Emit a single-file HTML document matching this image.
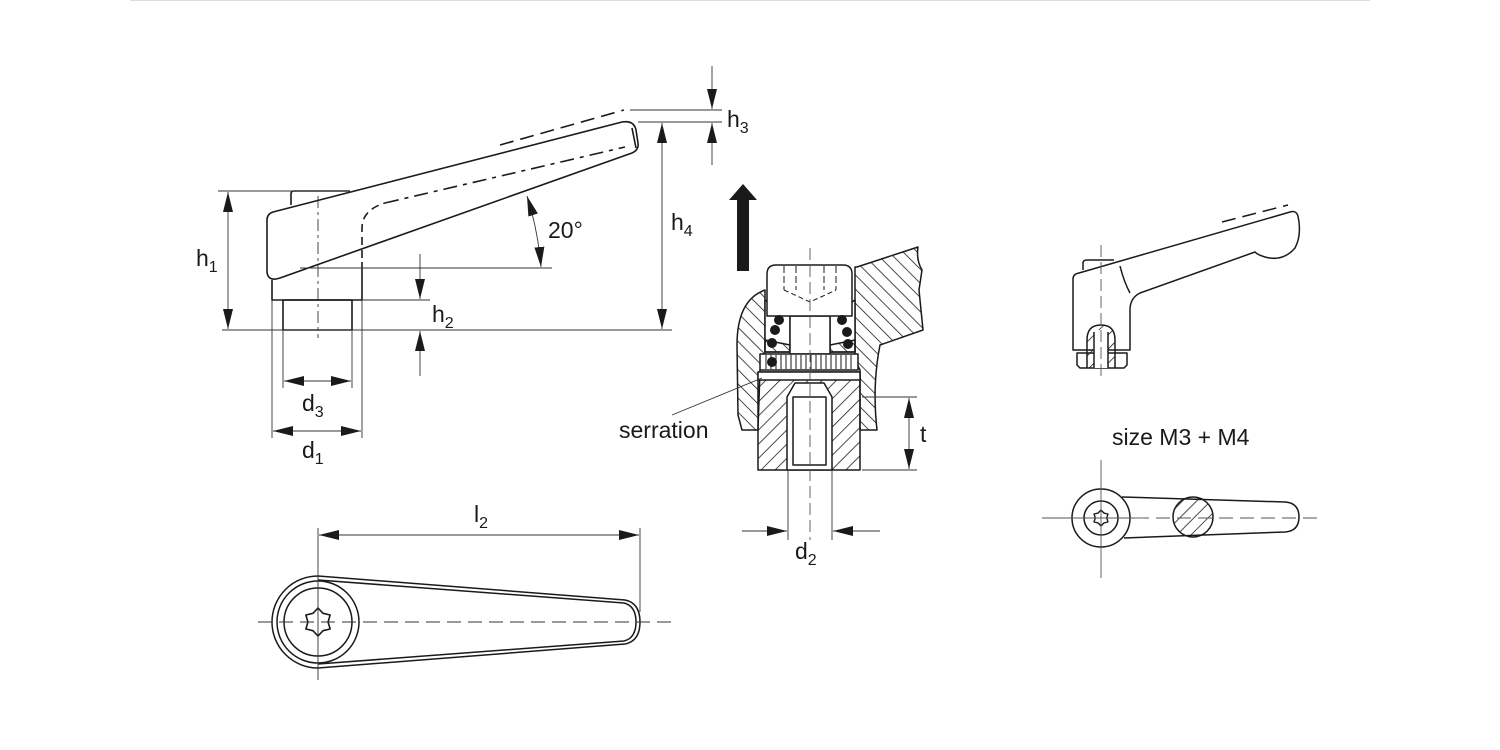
<!DOCTYPE html>
<html><head><meta charset="utf-8"><style>
html,body{margin:0;padding:0;background:#fff;}
svg{display:block;}
text{font-family:"Liberation Sans",Arial,sans-serif;fill:#1a1a1a;}
</style></head><body>
<svg width="1500" height="750" viewBox="0 0 1500 750" xmlns="http://www.w3.org/2000/svg">
<defs>
<pattern id="h" patternUnits="userSpaceOnUse" width="10" height="10" patternTransform="rotate(45)"><line x1="0" y1="0" x2="0" y2="10" stroke="#111" stroke-width="1.5"/></pattern>
<pattern id="h2" patternUnits="userSpaceOnUse" width="10" height="10" patternTransform="rotate(-45)"><line x1="0" y1="0" x2="0" y2="10" stroke="#111" stroke-width="1.5"/></pattern>
<marker id="a" viewBox="0 0 20 10" refX="20" refY="5" markerWidth="20" markerHeight="10" markerUnits="userSpaceOnUse" orient="auto-start-reverse"><path d="M0,0 L20,5 L0,10 Z" fill="#1a1a1a"/></marker>
</defs>
<line x1="130" y1="0.5" x2="1370" y2="0.5" stroke="#ddd"/>
<g fill="none" stroke="#1a1a1a" stroke-width="1.6" stroke-linejoin="round">
<path d="M291,205 L291,194 Q291,191 294,191 L350,191"/>
<path d="M267,220 Q267,214 273,212 L622,122 Q634,120 636,130 L638,143 Q639,150 632,153 L280,278 Q268,282 267,272 Z" fill="#fff"/>
<path d="M272,280 L272,300 L362,300 L362,262"/>
<rect x="283" y="300" width="69" height="30"/>
<path d="M362,258 L362,228 Q362,210 385,203" stroke-dasharray="8,5"/>
<path d="M385,203 L625,147" stroke-dasharray="14,6,4,6"/>
<path d="M632,128 L636,148" />
<path d="M500,145 L624,110" stroke-dasharray="14,7"/>
</g>
<g fill="none" stroke="#333" stroke-width="0.9">
<line x1="218" y1="191" x2="350" y2="191"/>
<line x1="222" y1="330" x2="672" y2="330"/>
<line x1="362" y1="300" x2="430" y2="300"/>
<line x1="300" y1="268" x2="552" y2="268"/>
<line x1="630" y1="110" x2="722" y2="110"/>
<line x1="638" y1="122" x2="722" y2="122"/>
<line x1="318" y1="196" x2="318" y2="338" stroke-dasharray="12,4,3,4"/>
<line x1="283" y1="330" x2="283" y2="388"/>
<line x1="352" y1="330" x2="352" y2="388"/>
<line x1="272" y1="300" x2="272" y2="438"/>
<line x1="362" y1="300" x2="362" y2="438"/>
<line x1="228" y1="192" x2="228" y2="329" marker-start="url(#a)" marker-end="url(#a)"/>
<line x1="662" y1="123" x2="662" y2="329" marker-start="url(#a)" marker-end="url(#a)"/>
<line x1="712" y1="66" x2="712" y2="109" marker-end="url(#a)"/>
<line x1="712" y1="165" x2="712" y2="123" marker-end="url(#a)"/>
<line x1="420" y1="254" x2="420" y2="299" marker-end="url(#a)"/>
<line x1="420" y1="376" x2="420" y2="331" marker-end="url(#a)"/>
<line x1="284" y1="381" x2="351" y2="381" marker-start="url(#a)" marker-end="url(#a)"/>
<line x1="273" y1="431" x2="361" y2="431" marker-start="url(#a)" marker-end="url(#a)"/>
<path d="M527,196 Q538,230 541,267" marker-start="url(#a)" marker-end="url(#a)"/>
</g>
<text x="196" y="266" font-size="23">h<tspan font-size="16" dy="6">1</tspan></text>
<text x="432" y="322" font-size="23">h<tspan font-size="16" dy="6">2</tspan></text>
<text x="727" y="127" font-size="23">h<tspan font-size="16" dy="6">3</tspan></text>
<text x="671" y="230" font-size="23">h<tspan font-size="16" dy="6">4</tspan></text>
<text x="548" y="238" font-size="23">20°</text>
<text x="302" y="411" font-size="23">d<tspan font-size="16" dy="6">3</tspan></text>
<text x="302" y="458" font-size="23">d<tspan font-size="16" dy="6">1</tspan></text>

<rect x="737" y="197" width="12" height="74" fill="#1a1a1a"/>
<path d="M729,200 L743,184 L757,200 Z" fill="#1a1a1a"/>
<g stroke="#1a1a1a" stroke-width="1.5" stroke-linejoin="round">
<path d="M857,267 L918,247 Q916,260 922,270 L919,290 L923,330 L880,345 Q872,385 877,430 L860,430 L860,370 L855,360 L855,267 Z" fill="url(#h2)"/>
<path d="M765,290 L765,360 L760,370 L758,430 L742,430 L738,415 L737,345 Q737,300 765,290 Z" fill="url(#h2)"/>
<path d="M758,372 L860,372 L860,470 L758,470 Z" fill="url(#h)"/>
<path d="M787,470 L787,397 L795,383 L824,383 L832,397 L832,470 Z" fill="#fff"/>
<rect x="793" y="397" width="33" height="68" fill="#fff"/>
<rect x="758" y="372" width="102" height="8" fill="#fff"/>
<path d="M765,300 L790,316 L790,352 L765,352 Z" fill="#fff"/>
<path d="M855,300 L830,316 L830,352 L855,352 Z" fill="#fff"/>
<path d="M765,340 L790,345 L790,352 L765,352 Z" fill="url(#h2)"/>
<path d="M855,340 L830,345 L830,352 L855,352 Z" fill="url(#h2)"/>
<rect x="790" y="316" width="40" height="38" fill="#fff"/>
<path d="M767,316 L767,274 Q767,265 776,265 L843,265 Q852,265 852,274 L852,316 Z" fill="#fff"/>
<rect x="760" y="354" width="98" height="16" fill="#fff"/>
</g>
<g stroke="#1a1a1a" stroke-width="1">
<path d="M766,355 V369 M771,355 V369 M776,355 V369 M781,355 V369 M786,355 V369 M791,355 V369 M796,355 V369 M801,355 V369 M806,355 V369 M811,355 V369 M816,355 V369 M821,355 V369 M826,355 V369 M831,355 V369 M836,355 V369 M841,355 V369 M846,355 V369 M851,355 V369"/>
<path d="M784,266 V290 M796,266 V290 M824,266 V290 M836,266 V290" stroke-dasharray="7,3"/>
<path d="M784,290 L810,302 L836,290" stroke-dasharray="5,3" fill="none"/>
<line x1="810" y1="248" x2="810" y2="540" stroke="#555" stroke-width="0.9" stroke-dasharray="12,5"/>
</g>
<g fill="#1a1a1a">
<circle cx="779" cy="320" r="5"/><circle cx="775" cy="330" r="5"/><circle cx="772" cy="343" r="5"/><circle cx="772" cy="362" r="5"/>
<circle cx="842" cy="320" r="5"/><circle cx="847" cy="332" r="5"/><circle cx="848" cy="344" r="5"/>
</g>
<g fill="none" stroke="#333" stroke-width="0.9">
<line x1="862" y1="397" x2="917" y2="397"/>
<line x1="862" y1="470" x2="917" y2="470"/>
<line x1="909" y1="398" x2="909" y2="469" marker-start="url(#a)" marker-end="url(#a)"/>
<line x1="788" y1="470" x2="788" y2="540"/>
<line x1="832" y1="470" x2="832" y2="540"/>
<line x1="742" y1="531" x2="787" y2="531" marker-end="url(#a)"/>
<line x1="880" y1="531" x2="833" y2="531" marker-end="url(#a)"/>
<line x1="672" y1="415" x2="762" y2="378"/>
</g>
<text x="920" y="442" font-size="23">t</text>
<text x="795" y="559" font-size="23">d<tspan font-size="16" dy="6">2</tspan></text>
<text x="619" y="438" font-size="23">serration</text>

<g fill="none" stroke="#1a1a1a" stroke-width="1.5" stroke-linejoin="round">
<path d="M318,576 L625,600 Q640,603 640,622 Q640,641 625,644 L318,668 A46,46 0 0 1 318,576 Z"/>
<path d="M318,580 L624,603 Q636,606 636,622 Q636,638 624,641 L318,664"/>
<circle cx="318" cy="622" r="41"/>
<circle cx="318" cy="622" r="34"/>
<polygon transform="translate(318,622) scale(14)" vector-effect="non-scaling-stroke" stroke-width="1.6" stroke-linejoin="round" points="0,-1 0.36,-0.62 0.866,-0.5 0.72,0 0.866,0.5 0.36,0.62 0,1 -0.36,0.62 -0.866,0.5 -0.72,0 -0.866,-0.5 -0.36,-0.62"/>
</g>
<g fill="none" stroke="#333" stroke-width="0.9">
<line x1="258" y1="622" x2="672" y2="622" stroke-dasharray="14,7"/>
<line x1="318" y1="528" x2="318" y2="680"/>
<line x1="640" y1="528" x2="640" y2="612"/>
<line x1="319" y1="535" x2="639" y2="535" marker-start="url(#a)" marker-end="url(#a)"/>
</g>
<text x="474" y="522" font-size="23">l<tspan font-size="16" dy="6">2</tspan></text>

<g fill="none" stroke="#1a1a1a" stroke-width="1.5" stroke-linejoin="round">
<path d="M1083,270 L1083,263 Q1083,260 1087,260 L1114,260"/>
<path d="M1073,350 L1073,279 Q1073,274 1079,273 L1290,212 Q1296,210 1298,216 Q1302,235 1295,248 Q1283,262 1265,257 Q1258,255 1255,252 L1140,293 Q1130,298 1130,310 L1130,350 Z" fill="#fff"/>
<path d="M1120,266 Q1124,282 1130,293"/>
<path d="M1222,222 L1288,205" stroke-dasharray="14,7"/>
<path d="M1077,353 L1077,365 L1080,368 L1124,368 L1127,365 L1127,353 Z" fill="#fff"/>
<path d="M1087,368 L1087,340 Q1087,325 1101,325 Q1115,325 1115,340 L1115,368" fill="url(#h)"/>
<rect x="1094" y="330" width="14" height="38" fill="#fff" stroke="none"/>
<line x1="1094" y1="332" x2="1094" y2="368"/>
<line x1="1108" y1="332" x2="1108" y2="368"/>
</g>
<line x1="1101" y1="245" x2="1101" y2="378" stroke="#555" stroke-width="0.9" stroke-dasharray="12,5"/>
<text x="1112" y="445" font-size="23">size M3 + M4</text>

<g fill="none" stroke="#1a1a1a" stroke-width="1.5" stroke-linejoin="round">
<path d="M1122,497 L1285,502 Q1299,503 1299,517 Q1299,531 1285,532 L1124,538"/>
<circle cx="1101" cy="518" r="29" fill="#fff"/>
<circle cx="1101" cy="518" r="17"/>
<circle cx="1193" cy="517" r="20" fill="url(#h)"/>
<polygon transform="translate(1101,518) scale(8)" vector-effect="non-scaling-stroke" stroke-width="1.4" stroke-linejoin="round" points="0,-1 0.36,-0.62 0.866,-0.5 0.72,0 0.866,0.5 0.36,0.62 0,1 -0.36,0.62 -0.866,0.5 -0.72,0 -0.866,-0.5 -0.36,-0.62"/>
</g>
<g stroke="#555" stroke-width="0.9">
<line x1="1042" y1="518" x2="1135" y2="518"/>
<line x1="1135" y1="518" x2="1320" y2="518" stroke-dasharray="14,7"/>
<line x1="1101" y1="460" x2="1101" y2="578"/>
</g>
</svg>
</body></html>
